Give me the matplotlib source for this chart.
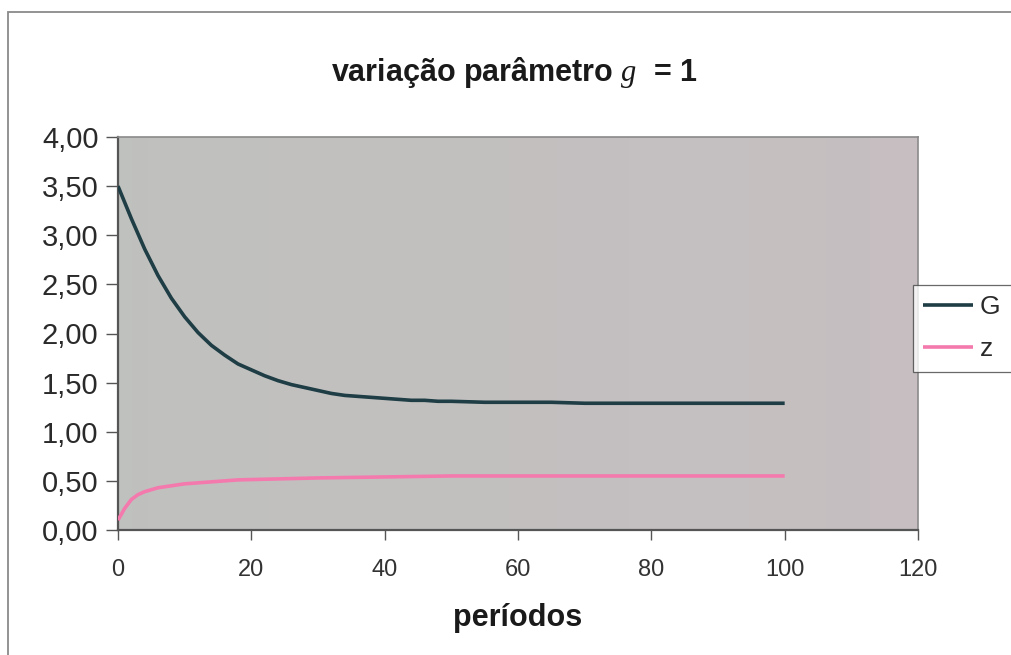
#!/usr/bin/env python3
"""Recreate the 'variação parâmetro g = 1' chart."""

import matplotlib
matplotlib.use("Agg")
import matplotlib.pyplot as plt
import numpy as np
from matplotlib.patches import Rectangle
from matplotlib.ticker import FuncFormatter

# periods and series values
g_periods = [0, 2, 4, 6, 8, 10, 12, 14, 16, 18, 20, 22, 24, 26, 28, 30, 32, 34, 36, 38,
             40, 42, 44, 46, 48, 50, 55, 60, 65, 70, 80, 90, 100]
g_values = [3.50, 3.17, 2.86, 2.59, 2.36, 2.17, 2.01, 1.88, 1.78, 1.69, 1.63, 1.57, 1.52,
            1.48, 1.45, 1.42, 1.39, 1.37, 1.36, 1.35, 1.34, 1.33, 1.32, 1.32, 1.31, 1.31,
            1.30, 1.30, 1.30, 1.29, 1.29, 1.29, 1.29]

z_periods = [0, 1, 2, 3, 4, 6, 8, 10, 14, 18, 24, 30, 40, 50, 60, 80, 100]
z_values = [0.10, 0.22, 0.31, 0.36, 0.39, 0.43, 0.45, 0.47, 0.49, 0.51, 0.52, 0.53,
            0.54, 0.55, 0.55, 0.55, 0.55]

x_ticks = [0, 20, 40, 60, 80, 100, 120]
y_ticks = [0.0, 0.5, 1.0, 1.5, 2.0, 2.5, 3.0, 3.5, 4.0]

plt.rcParams["font.family"] = ["Liberation Sans", "DejaVu Sans"]
plt.rcParams["mathtext.fontset"] = "custom"
plt.rcParams["mathtext.it"] = "Liberation Serif:italic"
plt.rcParams["mathtext.rm"] = "Liberation Serif"

W, H = 1011, 655
fig = plt.figure(figsize=(W / 100, H / 100), dpi=100)
fig.patch.set_facecolor("white")

# outer chart frame (only left/top edges visible in the scan)
fig.patches.append(Rectangle((8 / W, -0.05), 1.1, 1 - 12 / H + 0.05, transform=fig.transFigure,
                             fill=False, edgecolor="#8a8a8a", linewidth=1.3, zorder=0))

ax = fig.add_axes([118 / W, 1 - 530 / H, (918 - 118) / W, (530 - 137) / H])

# plot area background: grey, a touch greener on the left and pinker on the right
grad = np.linspace(0, 1, 256)
c0 = np.array([0.752, 0.757, 0.748])
c1 = np.array([0.778, 0.748, 0.757])
img = c0[None, None, :] * (1 - grad[None, :, None]) + c1[None, None, :] * grad[None, :, None]
ax.imshow(img, extent=[0, 120, 0, 4], aspect="auto", zorder=0, interpolation="bilinear")

ax.plot(g_periods, g_values, color="#1e3d45", linewidth=2.6, label="G", zorder=3,
        solid_capstyle="butt")
ax.plot(z_periods, z_values, color="#f47aae", linewidth=2.6, label="z", zorder=3,
        solid_capstyle="butt")

ax.set_xlim(0, 120)
ax.set_ylim(0, 4)
ax.set_xticks(x_ticks)
ax.set_yticks(y_ticks)
ax.yaxis.set_major_formatter(FuncFormatter(lambda v, p: f"{v:.2f}".replace(".", ",")))
ax.tick_params(axis="y", direction="out", length=9, width=1, colors="#555555",
               labelsize=21, labelcolor="#2a2a2a", pad=5)
ax.tick_params(axis="x", direction="out", length=7, width=1, colors="#555555",
               labelsize=17, labelcolor="#333333", pad=14)
for side in ["left", "bottom"]:
    ax.spines[side].set_color("#555555")
    ax.spines[side].set_linewidth(1.6)
for side in ["top", "right"]:
    ax.spines[side].set_color("#8a8a8a")
    ax.spines[side].set_linewidth(1.2)

fig.text(514 / W, 1 - 72 / H, r"variação parâmetro $g$  = 1", ha="center", va="center",
         fontsize=22, fontweight="bold", color="#1a1a1a")
fig.text(518 / W, 1 - 618 / H, "períodos", ha="center", va="center",
         fontsize=22, fontweight="bold", color="#1a1a1a")

leg = ax.legend(loc="upper left", bbox_to_anchor=(913 / W, 1 - 375 / H, 100 / W, 90 / H),
                bbox_transform=fig.transFigure, mode="expand", frameon=True, fancybox=False,
                fontsize=19, handlelength=1.9, handletextpad=0.25, borderpad=0.38,
                labelspacing=0.7, borderaxespad=0)
leg.get_frame().set_edgecolor("#444444")
leg.get_frame().set_linewidth(0.9)
leg.get_frame().set_facecolor("white")
for t in leg.get_texts():
    t.set_color("#2a2a2a")

fig.savefig("out.png", dpi=100)
plt.close(fig)
